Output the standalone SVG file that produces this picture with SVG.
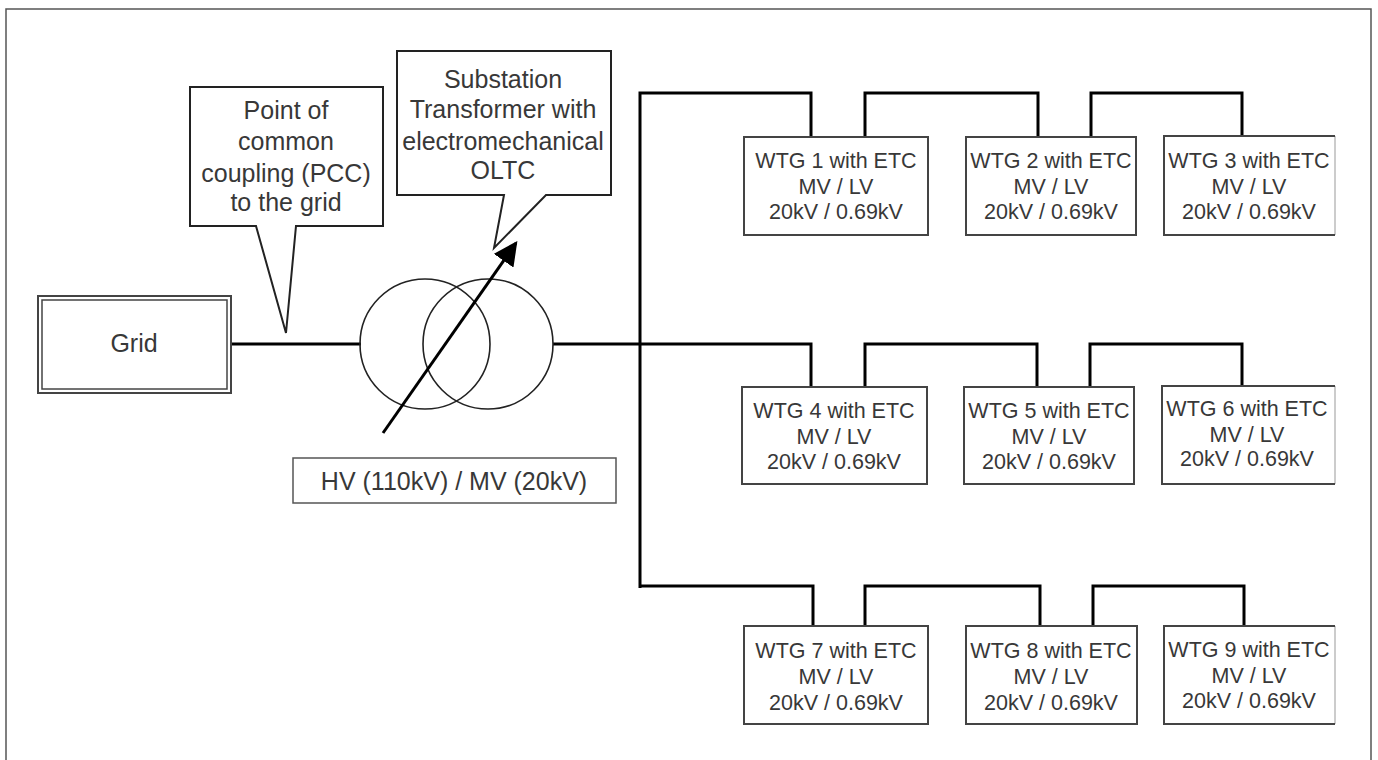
<svg xmlns="http://www.w3.org/2000/svg" width="1378" height="760" viewBox="0 0 1378 760">
<style>
text{font-family:"Liberation Sans",Arial,sans-serif;fill:#383838;text-anchor:middle}
.big{font-size:25px}
.wtg{font-size:21.5px}
.box{fill:#fff;stroke:#444;stroke-width:2}
.boxr{fill:none;stroke:#444;stroke-width:2}
.fade{fill:none;stroke:#ccc;stroke-width:2}
.wire{fill:none;stroke:#000;stroke-width:3;stroke-linejoin:miter}
.callout{fill:#fff;stroke:#222;stroke-width:2;stroke-linejoin:miter}
.coil{fill:none;stroke:#222;stroke-width:1.6}
</style>
<defs>
<marker id="ah" viewBox="0 0 10 10" refX="9" refY="5" markerWidth="8" markerHeight="8" markerUnits="strokeWidth" orient="auto">
<path d="M0,0 L10,5 L0,10 z" fill="#000"/>
</marker>
</defs>
<rect x="6" y="9" width="1365" height="770" fill="none" stroke="#555" stroke-width="1.5"/>
<g id="connectors">
<path class="wire" d="M231,344 H361"/>
<path class="wire" d="M553,344 H811 V387"/>
<path class="wire" d="M640,588 V93 H811 V137"/>
<path class="wire" d="M865,137 V93 H1038 V137"/>
<path class="wire" d="M1091,137 V93 H1242 V136"/>
<path class="wire" d="M865,387 V344 H1037 V387"/>
<path class="wire" d="M1090,387 V344 H1242 V386"/>
<path class="wire" d="M640,586 H813 V626"/>
<path class="wire" d="M865,626 V586 H1040 V626"/>
<path class="wire" d="M1093,626 V586 H1244 V626"/>
</g>
<g id="grid">
<rect x="38" y="296" width="193" height="97" fill="#fff" stroke="#444" stroke-width="2"/>
<rect x="42" y="300" width="185" height="89" fill="none" stroke="#444" stroke-width="1.5"/>
<text class="big" x="134" y="352">Grid</text>
</g>
<g id="pcc-callout">
<path class="callout" d="M190,87 H383 V226 H296 L286,333 L256,226 H190 Z"/>
<text class="big" x="286" y="119">Point of</text>
<text class="big" x="286" y="150">common</text>
<text class="big" x="286" y="182">coupling (PCC)</text>
<text class="big" x="286" y="211">to the grid</text>
</g>
<g id="substation-callout">
<path class="callout" d="M397,51 H611 V195 H546 L494,248 L504,195 H397 Z"/>
<text class="big" x="503" y="88">Substation</text>
<text class="big" x="503" y="118">Transformer with</text>
<text class="big" x="503" y="150">electromechanical</text>
<text class="big" x="503" y="179">OLTC</text>
</g>
<g id="transformer">
<circle class="coil" cx="425" cy="344" r="65"/>
<circle class="coil" cx="488" cy="344" r="65"/>
<line x1="383" y1="433" x2="516" y2="243" stroke="#000" stroke-width="3" marker-end="url(#ah)"/>
</g>
<g id="hv-label">
<rect x="293" y="458" width="323" height="45" fill="#fff" stroke="#555" stroke-width="1.5"/>
<text class="big" x="454" y="490">HV (110kV) / MV (20kV)</text>
</g>
<g id="wtg1">
<rect class="box" x="744" y="137" width="184" height="98"/>
<text class="wtg" x="836" y="168">WTG 1 with ETC</text>
<text class="wtg" x="836" y="194">MV / LV</text>
<text class="wtg" x="836" y="219">20kV / 0.69kV</text>
</g>
<g id="wtg2">
<rect class="box" x="966" y="137" width="170" height="98"/>
<text class="wtg" x="1051" y="168">WTG 2 with ETC</text>
<text class="wtg" x="1051" y="194">MV / LV</text>
<text class="wtg" x="1051" y="219">20kV / 0.69kV</text>
</g>
<g id="wtg3">
<rect x="1164" y="136" width="171" height="99" fill="#fff"/>
<path class="fade" d="M1335,136 V235"/>
<path class="boxr" d="M1335,136 H1164 V235 H1335"/>
<text class="wtg" x="1249" y="168">WTG 3 with ETC</text>
<text class="wtg" x="1249" y="194">MV / LV</text>
<text class="wtg" x="1249" y="219">20kV / 0.69kV</text>
</g>
<g id="wtg4">
<rect class="box" x="742" y="387" width="185" height="97"/>
<text class="wtg" x="834" y="418">WTG 4 with ETC</text>
<text class="wtg" x="834" y="444">MV / LV</text>
<text class="wtg" x="834" y="469">20kV / 0.69kV</text>
</g>
<g id="wtg5">
<rect class="box" x="964" y="387" width="170" height="97"/>
<text class="wtg" x="1049" y="418">WTG 5 with ETC</text>
<text class="wtg" x="1049" y="444">MV / LV</text>
<text class="wtg" x="1049" y="469">20kV / 0.69kV</text>
</g>
<g id="wtg6">
<rect x="1162" y="386" width="173" height="98" fill="#fff"/>
<path class="fade" d="M1335,386 V484"/>
<path class="boxr" d="M1335,386 H1162 V484 H1335"/>
<text class="wtg" x="1247" y="416">WTG 6 with ETC</text>
<text class="wtg" x="1247" y="442">MV / LV</text>
<text class="wtg" x="1247" y="466">20kV / 0.69kV</text>
</g>
<g id="wtg7">
<rect class="box" x="744" y="626" width="184" height="98"/>
<text class="wtg" x="836" y="658">WTG 7 with ETC</text>
<text class="wtg" x="836" y="684">MV / LV</text>
<text class="wtg" x="836" y="710">20kV / 0.69kV</text>
</g>
<g id="wtg8">
<rect class="box" x="966" y="626" width="171" height="98"/>
<text class="wtg" x="1051" y="658">WTG 8 with ETC</text>
<text class="wtg" x="1051" y="684">MV / LV</text>
<text class="wtg" x="1051" y="710">20kV / 0.69kV</text>
</g>
<g id="wtg9">
<rect x="1164" y="626" width="171" height="98" fill="#fff"/>
<path class="fade" d="M1335,626 V724"/>
<path class="boxr" d="M1335,626 H1164 V724 H1335"/>
<text class="wtg" x="1249" y="657">WTG 9 with ETC</text>
<text class="wtg" x="1249" y="683">MV / LV</text>
<text class="wtg" x="1249" y="708">20kV / 0.69kV</text>
</g>
</svg>
